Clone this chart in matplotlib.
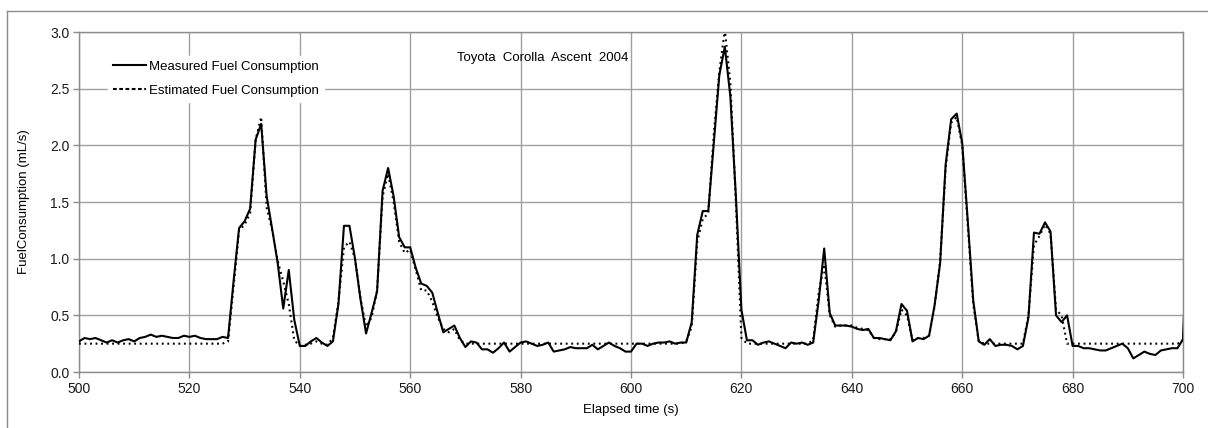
import numpy as np
import matplotlib
matplotlib.use("Agg")
import matplotlib.pyplot as plt
from matplotlib.lines import Line2D

plt.rcParams['font.family'] = ['Liberation Sans', 'DejaVu Sans']

# elapsed time (s), one sample per second
t_start = 500
t_end = 701

measured = [
    0.27, 0.30, 0.29, 0.30, 0.28, 0.26, 0.28, 0.26, 0.28, 0.29,
    0.27, 0.30, 0.31, 0.33, 0.31, 0.32, 0.31, 0.30, 0.30, 0.32,
    0.31, 0.32, 0.30, 0.29, 0.29, 0.29, 0.31, 0.30, 0.80, 1.27,
    1.33, 1.44, 2.05, 2.19, 1.55, 1.26, 0.96, 0.56, 0.90, 0.46,
    0.23, 0.23, 0.27, 0.30, 0.26, 0.23, 0.27, 0.60, 1.29, 1.29,
    1.00, 0.64, 0.34, 0.52, 0.71, 1.60, 1.80, 1.55, 1.19, 1.10,
    1.10, 0.92, 0.78, 0.76, 0.70, 0.52, 0.35, 0.38, 0.41, 0.30,
    0.22, 0.27, 0.26, 0.20, 0.20, 0.17, 0.21, 0.26, 0.18, 0.22,
    0.26, 0.27, 0.25, 0.23, 0.24, 0.26, 0.18, 0.19, 0.20, 0.22,
    0.21, 0.21, 0.21, 0.24, 0.20, 0.23, 0.26, 0.23, 0.21, 0.18,
    0.18, 0.25, 0.25, 0.23, 0.25, 0.26, 0.26, 0.27, 0.25, 0.26,
    0.26, 0.44, 1.21, 1.42, 1.42, 2.02, 2.62, 2.87, 2.43, 1.55,
    0.55, 0.28, 0.28, 0.24, 0.26, 0.27, 0.25, 0.23, 0.21, 0.26,
    0.25, 0.26, 0.24, 0.26, 0.63, 1.09, 0.52, 0.41, 0.41, 0.41,
    0.40, 0.38, 0.37, 0.38, 0.30, 0.30, 0.29, 0.28, 0.36, 0.60,
    0.54, 0.27, 0.30, 0.29, 0.32, 0.59, 0.96, 1.83, 2.23, 2.28,
    2.02, 1.34, 0.63, 0.27, 0.24, 0.29, 0.23, 0.24, 0.24, 0.23,
    0.20, 0.23, 0.48, 1.23, 1.22, 1.32, 1.24, 0.50, 0.44, 0.50,
    0.23, 0.23, 0.21, 0.21, 0.20, 0.19, 0.19, 0.21, 0.23, 0.25,
    0.21, 0.12, 0.15, 0.18, 0.16, 0.15, 0.19, 0.20, 0.21, 0.21,
    0.29, 1.50,
]

estimated = [
    0.25, 0.25, 0.25, 0.25, 0.25, 0.25, 0.25, 0.25, 0.25, 0.25,
    0.25, 0.25, 0.25, 0.25, 0.25, 0.25, 0.25, 0.25, 0.25, 0.25,
    0.25, 0.25, 0.25, 0.25, 0.25, 0.25, 0.25, 0.27, 0.75, 1.25,
    1.30, 1.40, 2.05, 2.25, 1.45, 1.25, 0.98, 0.80, 0.60, 0.28,
    0.23, 0.24, 0.25, 0.27, 0.25, 0.24, 0.30, 0.62, 1.10, 1.15,
    1.00, 0.65, 0.40, 0.48, 0.72, 1.55, 1.75, 1.50, 1.15, 1.05,
    1.08, 0.90, 0.72, 0.72, 0.62, 0.48, 0.38, 0.35, 0.38, 0.28,
    0.25, 0.25, 0.25, 0.25, 0.25, 0.25, 0.25, 0.25, 0.25, 0.25,
    0.25, 0.25, 0.25, 0.25, 0.25, 0.25, 0.25, 0.25, 0.25, 0.25,
    0.25, 0.25, 0.25, 0.25, 0.25, 0.25, 0.25, 0.25, 0.25, 0.25,
    0.25, 0.25, 0.25, 0.25, 0.25, 0.25, 0.25, 0.25, 0.25, 0.25,
    0.27, 0.40, 1.15, 1.35, 1.40, 2.10, 2.65, 3.02, 2.55, 1.50,
    0.30, 0.25, 0.25, 0.25, 0.25, 0.25, 0.25, 0.25, 0.25, 0.25,
    0.25, 0.25, 0.25, 0.28, 0.70, 0.95, 0.50, 0.40, 0.41, 0.41,
    0.41, 0.39, 0.38, 0.37, 0.30, 0.29, 0.29, 0.29, 0.35, 0.55,
    0.50, 0.28, 0.30, 0.30, 0.32, 0.58, 0.98, 1.80, 2.20, 2.25,
    2.00, 1.30, 0.60, 0.27, 0.25, 0.25, 0.25, 0.25, 0.25, 0.25,
    0.25, 0.25, 0.50, 1.12, 1.20, 1.30, 1.22, 0.55, 0.50, 0.25,
    0.25, 0.25, 0.25, 0.25, 0.25, 0.25, 0.25, 0.25, 0.25, 0.25,
    0.25, 0.25, 0.25, 0.25, 0.25, 0.25, 0.25, 0.25, 0.25, 0.25,
    0.28, 0.85,
]

x_ticks = [500, 520, 540, 560, 580, 600, 620, 640, 660, 680, 700]
y_ticks = [0.0, 0.5, 1.0, 1.5, 2.0, 2.5, 3.0]

time = np.arange(t_start, t_end + 1)

fig = plt.figure(figsize=(12.08, 4.28), dpi=100)
ax = fig.add_axes([79 / 1208, 1 - 372 / 428, (1183 - 79) / 1208, (372 - 32) / 428])

grey = '#8c8c8c'

ax.plot(time, estimated, color='black', linewidth=1.5,
        linestyle=(0, (0.9, 1.75)), zorder=3)
ax.plot(time, measured, color='black', linewidth=1.5, zorder=4)

ax.set_xlim(500, 700)
ax.set_ylim(0, 3.0)
ax.set_xticks(x_ticks)
ax.set_yticks(y_ticks)
ax.set_yticklabels([f"{v:.1f}" for v in y_ticks])
ax.grid(True, color='#a0a0a0', linewidth=1.0, zorder=0)
ax.set_axisbelow(True)
for sp in ax.spines.values():
    sp.set_color(grey)
    sp.set_linewidth(1.0)
ax.tick_params(direction='out', length=4, width=1, color=grey,
               labelsize=10, labelcolor='#1a1a1a', pad=3)

ax.set_xlabel('Elapsed time (s)', fontsize=9.5, labelpad=6)
ax.set_ylabel('FuelConsumption (mL/s)', fontsize=9.5, labelpad=14)

ax.text(584, 2.77, 'Toyota  Corolla  Ascent  2004', ha='center', va='center',
        fontsize=9.5)

handles = [
    Line2D([0], [0], color='black', linewidth=1.5),
    Line2D([0], [0], color='black', linewidth=1.5, linestyle=(0, (1.8, 1.2))),
]
labels = ['Measured Fuel Consumption', 'Estimated Fuel Consumption']
leg = ax.legend(handles, labels, loc='upper left', bbox_to_anchor=(0.02, 0.95),
                fontsize=9.5, frameon=True, fancybox=False, framealpha=1,
                edgecolor='white', facecolor='white', handlelength=2.5,
                handletextpad=0.25, labelspacing=0.85, borderpad=0.4)
leg.set_zorder(5)

# outer chart border (only left and top edges visible)
fig.add_artist(Line2D([7 / 1208, 7 / 1208], [0, 1 - 11 / 428],
                      transform=fig.transFigure, color=grey, linewidth=1.0))
fig.add_artist(Line2D([7 / 1208, 1], [1 - 11 / 428, 1 - 11 / 428],
                      transform=fig.transFigure, color=grey, linewidth=1.0))

fig.savefig('out.png', dpi=100)
